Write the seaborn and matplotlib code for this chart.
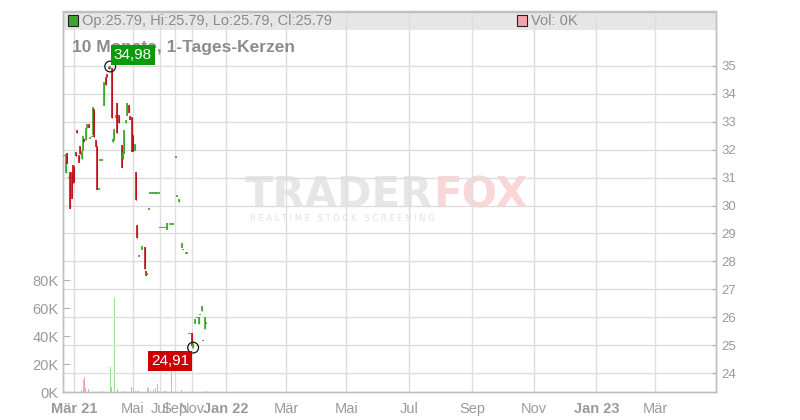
import matplotlib
matplotlib.use("Agg")
import matplotlib.pyplot as plt
from matplotlib.patches import Rectangle
import seaborn as sns
import pandas as pd

sns.set_style("white")
plt.rcParams['font.family'] = ['Liberation Sans', 'DejaVu Sans']

# Handelstag-Index und OHLC-Werte
tag = [1, 2, 3, 4, 5, 6, 7, 8, 9, 10, 11, 12, 13, 14, 15, 16, 17, 18, 19, 20,
       21, 22, 23, 24, 25, 26, 27, 29, 30, 31, 32, 33, 34, 35, 36, 37, 38, 39,
       41, 42, 43, 44, 45, 46, 47, 48, 49, 50, 51, 52, 53, 55, 57, 58, 59, 60,
       61, 62, 63, 64, 65, 66, 67, 68, 69, 70, 71, 72, 73, 75, 76, 77, 79, 80,
       81, 83, 84, 86, 87, 88, 89, 90, 91, 92, 94, 95, 96, 97, 98, 99, 100]
op = [31.78, 31.17, 31.85, 30.99, 31.17, 31.17, 31.42, 31.38, 31.88, 32.67,
      31.78, 32.10, 31.67, 31.99, 32.38, 32.35, 32.78, 32.89, 32.42, 32.46,
      32.56, 33.42, 32.31, 32.10, 30.59, 31.63, 31.63, 33.60, 34.57, 34.68,
      34.95, 34.92, 34.90, 32.28, 32.35, 33.17, 33.67, 33.21,
      32.13, 31.67, 31.88, 32.96, 33.24, 33.57, 33.17, 33.14, 32.49, 31.99,
      31.17, 29.27, 28.19, 28.44, 28.51, 27.62, 27.53, 29.86,
      30.45, 30.45, 30.45, 30.45, 30.45, 30.45, 30.45, 29.20, 29.20, 29.20,
      29.20, 29.20, 29.16, 29.34, 29.34, 29.34, 31.74, 30.34,
      30.13, 28.51, 28.43, 28.30, 28.30, 25.42, 25.42, 25.43, 24.91, 25.78,
      26.00, 25.76, 26.11, 26.23, 25.18, 25.58, 25.79]
hi = [31.78, 31.81, 31.85, 30.99, 31.17, 31.17, 31.42, 31.38, 31.88, 32.67,
      31.78, 32.10, 31.95, 32.46, 32.38, 32.74, 32.89, 32.89, 32.42, 32.46,
      33.50, 33.42, 32.31, 32.10, 30.59, 31.63, 31.63, 34.39, 34.57, 34.68,
      34.95, 34.98, 34.93, 32.38, 32.71, 33.24, 33.67, 33.21,
      32.13, 31.88, 32.67, 33.03, 33.64, 33.57, 33.17, 33.14, 32.49, 32.17,
      31.17, 29.27, 28.19, 28.53, 28.51, 27.62, 27.57, 29.90,
      30.45, 30.45, 30.45, 30.45, 30.45, 30.45, 30.45, 29.20, 29.20, 29.20,
      29.20, 29.20, 29.34, 29.34, 29.34, 29.34, 31.74, 30.34,
      30.20, 28.62, 28.43, 28.30, 28.30, 25.42, 25.42, 25.43, 25.04, 25.90,
      26.00, 26.00, 26.11, 26.38, 25.18, 25.97, 25.79]
lo = [31.78, 31.17, 31.52, 30.99, 29.91, 30.27, 30.81, 30.84, 31.78, 32.60,
      31.56, 31.85, 31.67, 31.99, 32.31, 32.35, 32.78, 32.81, 32.42, 32.46,
      32.56, 32.46, 32.13, 30.59, 30.59, 31.63, 31.63, 33.60, 34.32, 34.61,
      34.90, 34.92, 33.14, 32.28, 32.35, 33.17, 32.60, 32.96,
      31.38, 31.67, 31.88, 32.96, 33.24, 33.35, 33.10, 31.95, 31.95, 31.99,
      30.20, 28.84, 28.19, 28.44, 27.73, 27.51, 27.53, 29.86,
      30.45, 30.45, 30.45, 30.45, 30.45, 30.45, 30.45, 29.20, 29.20, 29.20,
      29.20, 29.20, 29.16, 29.34, 29.34, 29.34, 31.74, 30.34,
      30.13, 28.51, 28.43, 28.30, 28.30, 25.42, 25.42, 25.00, 24.91, 25.78,
      26.00, 25.76, 26.11, 26.23, 25.18, 25.58, 25.79]
cl = [31.78, 31.81, 31.52, 30.99, 29.91, 30.27, 30.81, 30.84, 31.78, 32.60,
      31.56, 31.85, 31.95, 32.46, 32.31, 32.74, 32.89, 32.81, 32.42, 32.46,
      33.50, 32.46, 32.13, 30.59, 30.59, 31.63, 31.63, 34.39, 34.32, 34.61,
      34.90, 34.98, 33.14, 32.38, 32.71, 33.24, 32.60, 32.96,
      31.38, 31.88, 32.67, 33.03, 33.64, 33.35, 33.10, 31.95, 31.95, 32.17,
      30.20, 28.84, 28.19, 28.53, 27.73, 27.51, 27.57, 29.90,
      30.45, 30.45, 30.45, 30.45, 30.45, 30.45, 30.45, 29.20, 29.20, 29.20,
      29.20, 29.20, 29.34, 29.34, 29.34, 29.34, 31.74, 30.34,
      30.20, 28.62, 28.43, 28.30, 28.30, 25.42, 25.42, 25.00, 25.04, 25.90,
      26.00, 26.00, 26.11, 26.38, 25.18, 25.97, 25.79]

# Volumen in Stueck, je Handelstag
vol_tag = [13, 14, 15, 16, 18, 27, 33, 34, 36, 38, 43, 48, 49, 51, 52, 53,
           59, 60, 61, 63, 65, 66, 67, 71, 72, 76, 83, 100]
vol = [1500, 8600, 11000, 3000, 2000, 1000, 18000, 3300, 67000, 2500, 1000,
       3300, 3000, 1000, 1000, 1000, 3600, 2600, 1000, 1500, 3000, 5500, 1000,
       1000, 1000, 17000, 1500, 1000]

tick_pos = [8, 49, 68, 78, 90, 114, 156, 198, 242, 286, 329, 373, 414]
tick_lab = ['Mär 21', 'Mai', 'Jul', 'Sep', 'Nov', 'Jan 22', 'Mär', 'Mai',
            'Jul', 'Sep', 'Nov', 'Jan 23', 'Mär']

df = pd.DataFrame({'tag': tag, 'op': op, 'hi': hi, 'lo': lo, 'cl': cl})
df['farbe'] = ['#3aa828' if c >= o else '#c0141c' for o, c in zip(df.op, df.cl)]
dv = pd.DataFrame({'tag': vol_tag, 'vol': vol}).merge(df, on='tag', how='left')
dv['farbe'] = ['#bdbdbd' if o == c else ('#9ddc9a' if c > o else '#f3a3aa')
               for o, c in zip(dv.op, dv.cl)]

GRAU = '#9a9a9a'
fig = plt.figure(figsize=(8, 4.2), dpi=100)
ax = fig.add_axes([63 / 800, 28 / 420, 653 / 800, 380.5 / 420])
axp = ax.twinx()

# Volumen (linke Achse)
ax.bar(dv.tag, dv.vol, width=0.7, color=dv.farbe, linewidth=0, zorder=2)
ax.set_ylim(0, 271800)
ax.set_yticks([0, 20000, 40000, 60000, 80000])
ax.set_yticklabels(['0K', '20K', '40K', '60K', '80K'])
ax.set_xlim(0, 456.6)
ax.set_xticks(tick_pos)
ax.set_xticklabels(tick_lab)
for t in ax.get_xticklabels():
    if ' ' in t.get_text():
        t.set_fontweight('bold')
ax.tick_params(axis='x', colors=GRAU, labelsize=10.5, length=4, color='#c0c0c0', pad=3)
ax.tick_params(axis='y', colors=GRAU, labelsize=10.5, length=5, direction='in',
               color='#b0b0b0', pad=3)
ax.grid(axis='x', color='#dddddd', lw=1)
ax.set_axisbelow(True)

# Kopfzeile, Titel, Wasserzeichen
ax.add_patch(Rectangle((0, 0.9514), 1, 0.0486, transform=ax.transAxes,
                       facecolor='#e6e6e6', edgecolor='none', zorder=0.2))
ax.add_patch(Rectangle((0.0077, 0.962), 0.0153, 0.029, transform=ax.transAxes,
                       facecolor='#3aa828', edgecolor='#222222', lw=0.8, zorder=3))
ax.text(0.0291, 0.975, 'Op:25.79, Hi:25.79, Lo:25.79, Cl:25.79', transform=ax.transAxes,
        color='#8a8a8a', fontsize=10.5, va='center', zorder=3)
ax.add_patch(Rectangle((0.695, 0.962), 0.0153, 0.029, transform=ax.transAxes,
                       facecolor='#f3a3aa', edgecolor='#222222', lw=0.8, zorder=3))
ax.text(0.717, 0.975, 'Vol: 0K', transform=ax.transAxes,
        color='#8a8a8a', fontsize=10.5, va='center', zorder=3)
ax.text(0.0138, 0.9067, '10 Monate, 1-Tages-Kerzen', transform=ax.transAxes,
        color='#8c8c8c', fontsize=12.5, fontweight='bold', va='center', zorder=3)
ax.text(0.5666, 0.486, 'TRADER', transform=ax.transAxes, ha='right', va='baseline',
        color='#e6e6e6', fontsize=30, fontweight='bold', family='DejaVu Sans', zorder=0.3)
ax.text(0.5666, 0.486, 'FOX', transform=ax.transAxes, ha='left', va='baseline',
        color='#fbd6d6', fontsize=30, fontweight='bold', family='DejaVu Sans', zorder=0.3)
ax.text(0.2864, 0.457, 'R E A L T I M E   S T O C K   S C R E E N I N G',
        transform=ax.transAxes, ha='left', va='center', color='#e0e0e0',
        fontsize=6, family='DejaVu Sans', zorder=0.3)

# Kerzen (rechte Achse)
body_lo = [min(o, c) - 0.02 for o, c in zip(df.op, df.cl)]
body_hi = [max(o, c) + 0.02 for o, c in zip(df.op, df.cl)]
axp.vlines(df.tag, df.lo, df.hi, colors=df.farbe, lw=0.8, zorder=3)
axp.vlines(df.tag, body_lo, body_hi, colors=df.farbe, lw=1.2, zorder=3)

ext = pd.DataFrame({'tag': [33, 91], 'kurs': [34.98, 24.91]})
sns.scatterplot(data=ext, x='tag', y='kurs', ax=axp, s=60, marker='o',
                facecolor='none', edgecolor='#111111', linewidth=0.9, zorder=4, legend=False)
axp.annotate('34,98', (33, 34.98), xytext=(2.5, 3.5), textcoords='offset points',
             ha='left', va='bottom', color='white', fontsize=11, zorder=5,
             bbox=dict(boxstyle='square,pad=0.2', fc='#0a9a0a', ec='none'))
axp.annotate('24,91', (91, 24.91), xytext=(-3, -4.5), textcoords='offset points',
             ha='right', va='top', color='white', fontsize=11, zorder=5,
             bbox=dict(boxstyle='square,pad=0.2', fc='#cc0000', ec='none'))

axp.set_ylim(23.32, 36.95)
axp.set_yticks(range(24, 36))
axp.set_xlim(0, 456.6)
axp.set_xlabel('')
axp.set_ylabel('')
axp.tick_params(axis='y', colors=GRAU, labelsize=9.5, length=3, direction='in',
                color='#b0b0b0', pad=4)
axp.grid(axis='y', color='#dddddd', lw=1)
axp.set_axisbelow(True)

for a in (ax, axp):
    for s in a.spines.values():
        s.set_color('#c0c0c0')
        s.set_linewidth(1)

fig.savefig('out.png', dpi=100)
